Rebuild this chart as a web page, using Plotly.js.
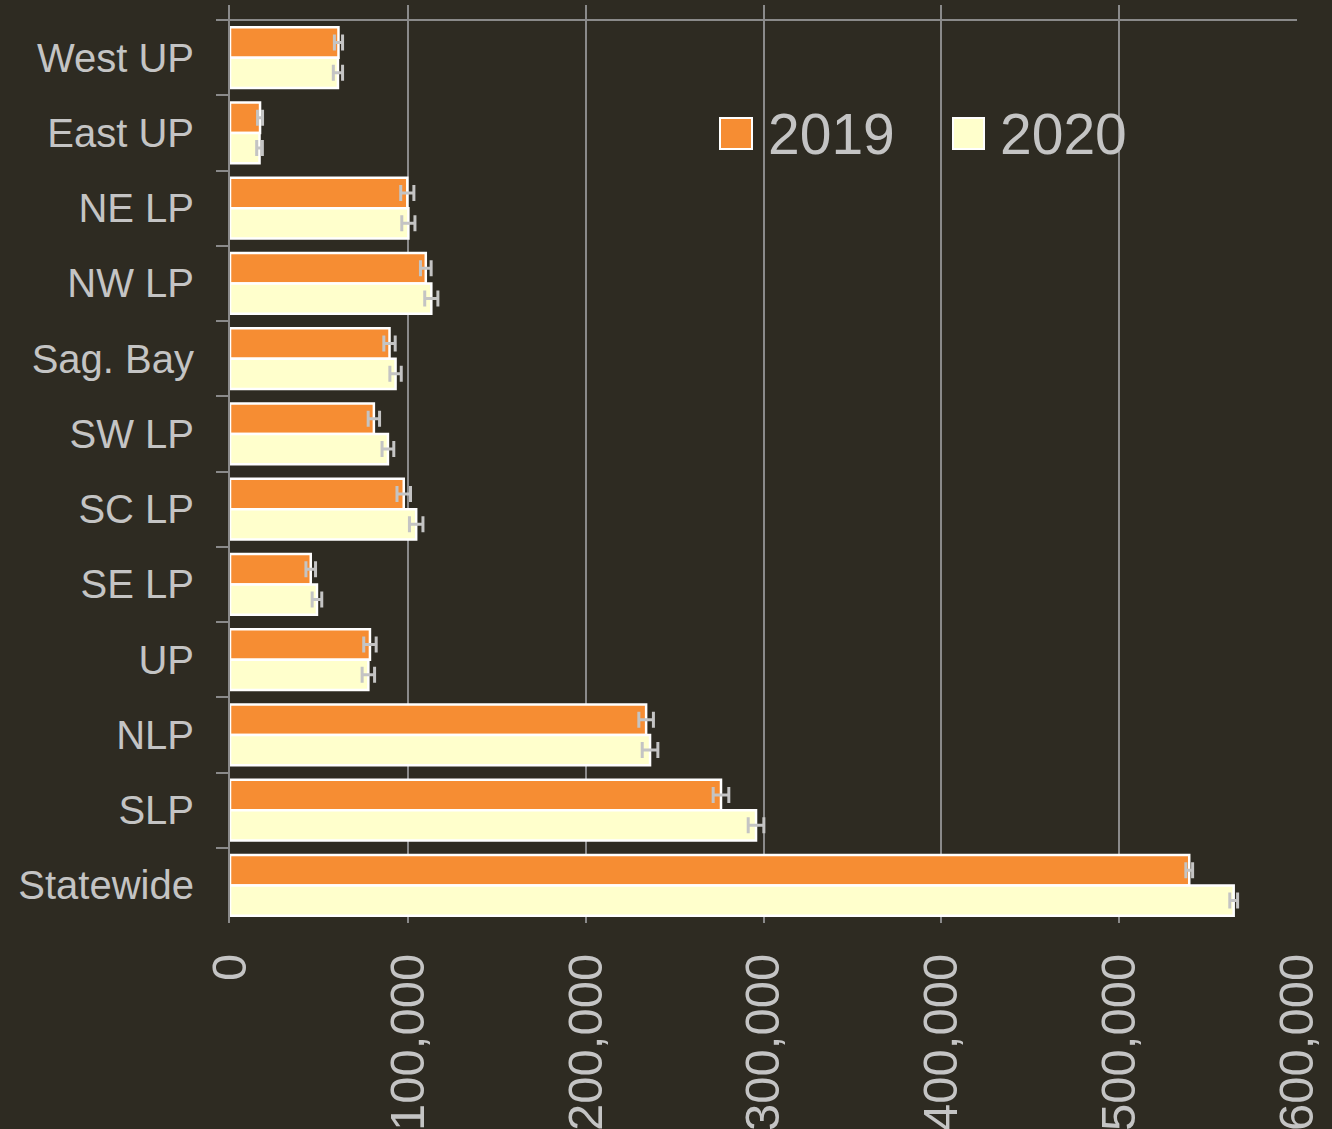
<!DOCTYPE html>
<html>
<head>
<meta charset="utf-8">
<script src="https://cdn.plot.ly/plotly-3.0.1.min.js"></script>
<style>
html, body { margin: 0; padding: 0; background: #2e2b22; }
#chart { width: 1332px; height: 1129px; }
</style>
</head>
<body>
<div id="chart"></div>
<script>
// ---- data ----
const categories = ['West UP', 'East UP', 'NE LP', 'NW LP', 'Sag. Bay', 'SW LP', 'SC LP', 'SE LP', 'UP', 'NLP', 'SLP', 'Statewide'];
const years = ['2019', '2020'];
const values2019 = [61000, 16900, 99700, 110100, 89700, 80900, 97700, 45400, 78700, 234000, 276100, 539400];
const values2020 = [60700, 16600, 100300, 113200, 93100, 88800, 104700, 48900, 77800, 236200, 295800, 564400];
const errors2019 = [2300, 1400, 3700, 3000, 3200, 3200, 3800, 2700, 3500, 4100, 4400, 1900];
const errors2020 = [2600, 1600, 3700, 3700, 3200, 3300, 3800, 2700, 3500, 4400, 4400, 2200];
const xTicks = [0, 100000, 200000, 300000, 400000, 500000, 600000];

// ---- style ----
const BG = '#2e2b22';
const GRID = '#8a8a8a';
const TEXT = '#c4c4c4';
const colors = ['#f68d33', '#ffffcc'];
const FONT = '"Liberation Sans", Arial, sans-serif';

// plot area geometry (px)
const W = 1332, H = 1129;
const L = 230, R = 35, T = 5, B = 206;
const plotW = W - L - R, plotH = H - T - B;
const bandTop = 20; // y pixel of first category boundary
const bandPx = (H - B - bandTop) / categories.length;
const yTopExtra = (bandTop - T) / bandPx;

const seriesVals = [values2019, values2020];
const seriesErr = [errors2019, errors2020];

const traces = years.map((yr, i) => ({
  type: 'bar',
  orientation: 'h',
  name: yr,
  y: categories,
  x: seriesVals[i],
  marker: { color: colors[i], line: { color: '#ffffff', width: 2.5 } },
  error_x: { type: 'data', array: seriesErr[i], visible: true, color: '#c4c4c4', thickness: 3, width: 8 },
  hoverinfo: 'x+y+name',
  showlegend: false
}));

// helpers px -> paper
const px = x => (x - L) / plotW;
const py = y => (H - B - y) / plotH;

// custom legend (large swatches)
const legendX = [[720, 752, 766], [953, 984, 998]];
const shapes = [
  { type: 'line', xref: 'paper', yref: 'paper', x0: px(217), x1: 1, y0: py(bandTop), y1: py(bandTop),
    line: { color: GRID, width: 2 } }
];
const annotations = [];
years.forEach((yr, i) => {
  const [a, b, t] = legendX[i];
  shapes.push({ type: 'rect', xref: 'paper', yref: 'paper', x0: px(a), x1: px(b), y0: py(149), y1: py(118),
    fillcolor: colors[i], line: { color: '#ffffff', width: 2 } });
  annotations.push({ xref: 'paper', yref: 'paper', x: px(t), y: py(134), xanchor: 'left', yanchor: 'middle',
    text: yr, showarrow: false, font: { family: FONT, size: 57, color: TEXT } });
});

const layout = {
  width: W, height: H,
  paper_bgcolor: BG, plot_bgcolor: BG,
  margin: { l: L, r: R, t: T, b: B, pad: 0 },
  font: { family: FONT, color: TEXT },
  barmode: 'group',
  bargap: 0.19,
  bargroupgap: 0,
  showlegend: false,
  xaxis: {
    range: [0, 600000],
    tickvals: xTicks,
    tickformat: ',d',
    tickangle: -90,
    ticks: '',
    ticklabelstandoff: 20,
    showgrid: true, gridcolor: GRID, gridwidth: 2,
    zeroline: false, showline: false,
    tickfont: { family: FONT, size: 49, color: TEXT }
  },
  yaxis: {
    type: 'category',
    range: [categories.length - 0.5, -0.5 - yTopExtra],
    tickson: 'boundaries',
    ticks: 'outside', ticklen: 12, tickwidth: 2, tickcolor: GRID,
    ticklabelstandoff: 26,
    showline: true, linecolor: GRID, linewidth: 2,
    showgrid: false, zeroline: false,
    tickfont: { family: FONT, size: 40, color: TEXT }
  },
  shapes: shapes,
  annotations: annotations
};

Plotly.newPlot('chart', traces, layout, { displayModeBar: false, staticPlot: true });
</script>
</body>
</html>
